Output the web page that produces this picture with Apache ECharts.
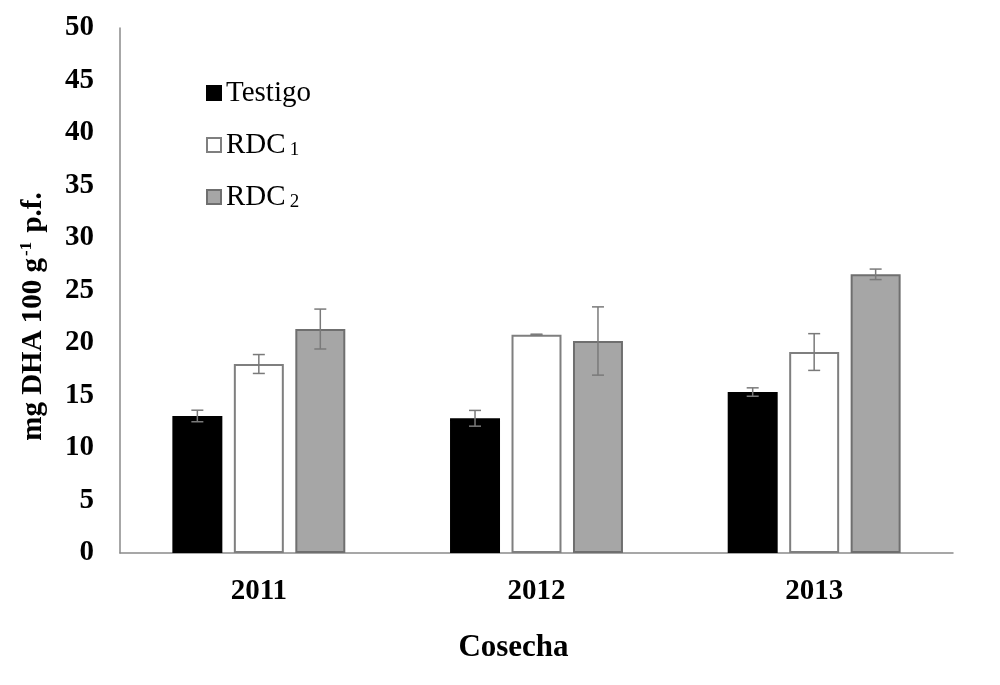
<!DOCTYPE html>
<html>
<head>
<meta charset="utf-8">
<script src="https://cdn.jsdelivr.net/npm/echarts@6/dist/echarts.min.js"></script>
<style>
html,body{margin:0;padding:0;background:#fff;}
#chart{width:1000px;height:685px;}
</style>
</head>
<body>
<div id="chart"></div>
<script>
// ---- data ----
var categories = ['2011', '2012', '2013'];
var seriesNames = ['Testigo', 'RDC1', 'RDC2'];
var testigo = [13.05, 12.83, 15.33];
var rdc1 = [18.0, 20.79, 19.14];
var rdc2 = [21.33, 20.19, 26.54];
var testigoErr = [0.55, 0.75, 0.4];
var rdc1Err = [0.9, 0.05, 1.75];
var rdc2Err = [1.9, 3.25, 0.5];
var yTicks = [0, 5, 10, 15, 20, 25, 30, 35, 40, 45, 50];

var values = [testigo, rdc1, rdc2];
var errors = [testigoErr, rdc1Err, rdc2Err];
var fills = ['#000000', '#ffffff', '#a6a6a6'];
var borders = ['#000000', '#7f7f7f', '#6f6f6f'];

var BAR_FRAC = 0.18;
var GAP_FRAC = 0.23;
var FONT = '"Liberation Serif", "Times New Roman", serif';

var chart = echarts.init(document.getElementById('chart'), null, {renderer: 'canvas'});

var series = [];
values.forEach(function (vals, i) {
  series.push({
    name: seriesNames[i],
    type: 'bar',
    data: vals,
    barWidth: (BAR_FRAC * 100) + '%',
    barGap: (GAP_FRAC * 100) + '%',
    itemStyle: {color: fills[i], borderColor: borders[i], borderWidth: 2},
    z: 2
  });
});
values.forEach(function (vals, i) {
  var errData = vals.map(function (v, k) { return [k, v - errors[i][k], v + errors[i][k]]; });
  series.push({
    type: 'custom',
    name: seriesNames[i] + '_err',
    z: 5,
    silent: true,
    data: errData,
    encode: {x: 0, y: [1, 2]},
    renderItem: function (params, api) {
      var cat = api.value(0);
      var lo = api.coord([cat, api.value(1)]);
      var hi = api.coord([cat, api.value(2)]);
      var W = api.size([1, 0])[0];
      var bw = W * BAR_FRAC;
      var pitch = bw * (1 + GAP_FRAC);
      var x = lo[0] + (i - 1) * pitch;
      var cap = 6;
      var st = {stroke: '#7a7a7a', lineWidth: 1.5};
      return {
        type: 'group',
        children: [
          {type: 'line', shape: {x1: x, y1: lo[1], x2: x, y2: hi[1]}, style: st},
          {type: 'line', shape: {x1: x - cap, y1: lo[1], x2: x + cap, y2: lo[1]}, style: st},
          {type: 'line', shape: {x1: x - cap, y1: hi[1], x2: x + cap, y2: hi[1]}, style: st}
        ]
      };
    }
  });
});

var option = {
  backgroundColor: '#ffffff',
  animation: false,
  grid: {left: 120, right: 47, top: 28, bottom: 132, containLabel: false},
  legend: {
    data: seriesNames,
    orient: 'vertical',
    left: 201,
    top: 73,
    icon: 'rect',
    itemWidth: 14,
    itemHeight: 14,
    itemGap: 22,
    selectedMode: false,
    formatter: function (name) {
      if (name.indexOf('RDC') === 0) {
        return 'RDC{sub|' + name.slice(3) + '}';
      }
      return name;
    },
    textStyle: {
      fontFamily: FONT,
      fontSize: 29,
      color: '#000',
      lineHeight: 30,
      padding: [0, 0, 0, 0],
      rich: {
        sub: {fontFamily: FONT, fontSize: 19, color: '#000', padding: [14, 0, 0, 4], verticalAlign: 'bottom'}
      }
    }
  },
  xAxis: {
    type: 'category',
    data: categories,
    axisLine: {show: true, lineStyle: {color: '#8a8a8a', width: 1.5}},
    axisTick: {show: false},
    axisLabel: {fontFamily: FONT, fontWeight: 'bold', fontSize: 29, color: '#000', margin: 24},
    name: 'Cosecha',
    nameLocation: 'middle',
    nameGap: 79,
    nameTextStyle: {fontFamily: FONT, fontWeight: 'bold', fontSize: 31, color: '#000', padding: [0, 46, 0, 0]}
  },
  yAxis: {
    type: 'value',
    min: 0,
    max: 50,
    interval: 5,
    splitLine: {show: false},
    axisLine: {show: true, lineStyle: {color: '#8a8a8a', width: 1.5}},
    axisTick: {show: false},
    axisLabel: {
      fontFamily: FONT, fontWeight: 'bold', fontSize: 29, color: '#000', margin: 26,
      formatter: function (v) { return yTicks.indexOf(v) >= 0 ? String(v) : ''; }
    },
    name: 'mg DHA 100 g{sup|-1} p.f.',
    nameLocation: 'middle',
    nameGap: 71,
    nameTextStyle: {
      fontFamily: FONT, fontWeight: 'bold', fontSize: 29, color: '#000',
      padding: [0, 52, 0, 0],
      rich: {
        sup: {fontFamily: FONT, fontWeight: 'bold', fontSize: 17, color: '#000', padding: [0, 2, 14, 2], verticalAlign: 'bottom'}
      }
    }
  },
  series: series
};
chart.setOption(option);
</script>
</body>
</html>
